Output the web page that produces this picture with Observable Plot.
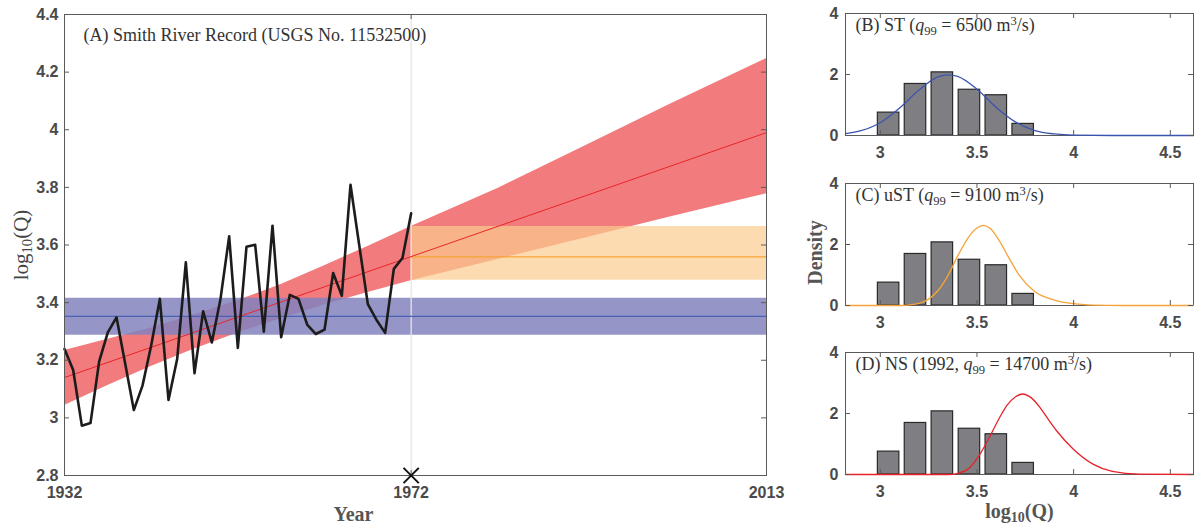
<!DOCTYPE html>
<html>
<head>
<meta charset="utf-8">
<script src="https://cdn.jsdelivr.net/npm/d3@7"></script>
<script src="https://cdn.jsdelivr.net/npm/@observablehq/plot@0.6"></script>
<style>
  body { margin: 0; background: #fff; }
  #fig { position: relative; width: 1194px; height: 527px; overflow: hidden; background: #fff; }
  #fig > svg { position: absolute; overflow: visible; }
</style>
</head>
<body>
<div id="fig"></div>
<script>
// ---- Smith River annual peaks, log10 of discharge (m³/s) ----
const years = [1932, 1933, 1934, 1935, 1936, 1937, 1938, 1939, 1940, 1941,
               1942, 1943, 1944, 1945, 1946, 1947, 1948, 1949, 1950, 1951,
               1952, 1953, 1954, 1955, 1956, 1957, 1958, 1959, 1960, 1961,
               1962, 1963, 1964, 1965, 1966, 1967, 1968, 1969, 1970, 1971, 1972];
const logQ = [3.239, 3.166, 2.973, 2.982, 3.196, 3.297, 3.349, 3.189, 3.027, 3.112,
              3.251, 3.413, 3.062, 3.204, 3.540, 3.155, 3.370, 3.262, 3.413, 3.630,
              3.243, 3.594, 3.601, 3.299, 3.667, 3.280, 3.427, 3.413, 3.324, 3.291,
              3.306, 3.503, 3.424, 3.809, 3.601, 3.395, 3.340, 3.295, 3.517, 3.555, 3.710];

// ---- Stationary (ST) level and its uncertainty band ----
const stSpan = [1932, 2013];
const stLevel = [3.287, 3.352, 3.415];   // lower, mean, upper

// ---- Updated stationary (uST) level from 1972 onward ----
const ustSpan = [1972, 2013];
const ustLevel = [3.478, 3.559, 3.664]; // lower, mean, upper

// ---- Nonstationary (NS) linear trend and its band ----
const nsTrendYears = [1932, 2013];
const nsTrend = [3.14, 3.99];
const nsBandYears = [1932, 1937, 1942, 1947, 1952, 1957, 1962, 1967, 1972, 1982, 1992, 2002, 2013];
const nsLower = [3.043, 3.112, 3.178, 3.239, 3.295, 3.344, 3.392, 3.435, 3.476, 3.550, 3.623, 3.698, 3.778];
const nsUpper = [3.234, 3.273, 3.312, 3.358, 3.407, 3.463, 3.528, 3.595, 3.664, 3.796, 3.943, 4.090, 4.247];

// ---- Axis ticks ----
const mainYTicks = [2.8, 3, 3.2, 3.4, 3.6, 3.8, 4, 4.2, 4.4];
const mainXTicks = [1932, 1972, 2013];
const histXTicks = [3, 3.5, 4, 4.5];
const histYTicks = [0, 2, 4];

// ---- Histogram of the record (density) ----
const binCenters = [3.043, 3.182, 3.321, 3.461, 3.600, 3.739];
const binDensity = [0.75, 1.69, 2.07, 1.50, 1.32, 0.38];

// ---- Fitted densities ----
const stCurveX = [2.82, 2.9, 3.0, 3.1, 3.2, 3.3, 3.35, 3.4, 3.5, 3.6, 3.7, 3.8, 3.9, 4.0, 4.2, 4.62];
const stCurveY = [0.06, 0.16, 0.42, 0.90, 1.49, 1.93, 1.99, 1.94, 1.52, 0.92, 0.44, 0.16, 0.05, 0.01, 0, 0];
const ustCurveX = [2.82, 3.10, 3.15, 3.20, 3.25, 3.30, 3.35, 3.40, 3.45, 3.50, 3.533, 3.57, 3.62, 3.66, 3.72, 3.80, 3.90, 4.00, 4.10, 4.25, 4.62];
const ustCurveY = [0, 0, 0.02, 0.07, 0.21, 0.50, 0.98, 1.62, 2.18, 2.54, 2.63, 2.52, 2.08, 1.62, 0.98, 0.45, 0.18, 0.06, 0.015, 0, 0];
const nsCurveX = [2.82, 3.35, 3.40, 3.45, 3.52, 3.571, 3.62, 3.657, 3.70, 3.735, 3.78, 3.829, 3.87, 3.915, 4.0, 4.10, 4.20, 4.34, 4.62];
const nsCurveY = [0, 0, 0.04, 0.16, 0.71, 1.30, 1.90, 2.28, 2.55, 2.64, 2.52, 2.17, 1.80, 1.41, 0.82, 0.34, 0.10, 0.01, 0];

// ---- Styling ----
const SERIF = "'Liberation Serif', 'DejaVu Serif', serif";
const SANS = "'Liberation Sans', Arial, sans-serif";
const AXIS = "#5a5a5a";
const TICKTXT = "#4a4a4a";

// Replace a plain text element by one with italics, subscripts and superscripts.
function setRich(svg, plain, parts) {
  svg.querySelectorAll("text").forEach(t => {
    if (t.textContent !== plain) return;
    while (t.firstChild) t.removeChild(t.firstChild);
    let shift = 0;
    for (const p of parts) {
      const ts = document.createElementNS("http://www.w3.org/2000/svg", "tspan");
      let target = 0;
      if (typeof p === "string") {
        ts.textContent = p;
      } else {
        ts.textContent = p.t;
        if (p.i) ts.setAttribute("font-style", "italic");
        if (p.sub) { ts.style.fontSize = "0.7em"; target = 4; }
        if (p.sup) { ts.style.fontSize = "0.7em"; target = -6; }
      }
      if (target !== shift) { ts.setAttribute("dy", target - shift); shift = target; }
      t.appendChild(ts);
    }
  });
}

const fig = document.getElementById("fig");

// ================= Panel A: record and model levels =================
const record = years.map((y, i) => ({year: y, q: logQ[i]}));
const stRows = stSpan.map(y => ({year: y, lo: stLevel[0], mid: stLevel[1], hi: stLevel[2]}));
const ustRows = ustSpan.map(y => ({year: y, lo: ustLevel[0], mid: ustLevel[1], hi: ustLevel[2]}));
const nsBand = nsBandYears.map((y, i) => ({year: y, lo: nsLower[i], hi: nsUpper[i]}));
const nsLine = nsTrendYears.map((y, i) => ({year: y, q: nsTrend[i]}));

const W = 790, H = 527, ML = 64, MR = 24, MT = 14, MB = 52;
const PW = W - ML - MR, PH = H - MT - MB;

const titleA = "(A) Smith River Record (USGS No. 11532500)";
const yLabA = "log10(Q)";

const tickText = {label: null, tickSize: 0, tickFormat: d => String(d),
  fontSize: 16, fontWeight: "bold", fontFamily: SANS, fill: TICKTXT};

const main = Plot.plot({
  width: W, height: H,
  marginLeft: ML, marginRight: MR, marginTop: MT, marginBottom: MB,
  x: {domain: [1932, 2013], axis: null},
  y: {domain: [2.8, 4.4], axis: null},
  style: {background: "transparent", overflow: "visible"},
  marks: [
    Plot.areaY(nsBand, {x: "year", y1: "lo", y2: "hi", fill: "#f27b7d"}),
    Plot.areaY(stRows, {x: "year", y1: "lo", y2: "hi", fill: "#8383be", fillOpacity: 0.85}),
    Plot.areaY(ustRows, {x: "year", y1: "lo", y2: "hi", fill: "#fccc8e", fillOpacity: 0.7}),
    Plot.ruleX([1972], {stroke: "#e6e6e6", strokeWidth: 1.3}),
    Plot.line(stRows, {x: "year", y: "mid", stroke: "#4a62b5", strokeWidth: 1.3}),
    Plot.line(ustRows, {x: "year", y: "mid", stroke: "#f6a334", strokeWidth: 1.3}),
    Plot.line(nsLine, {x: "year", y: "q", stroke: "#e8262a", strokeWidth: 1}),
    Plot.line(record, {x: "year", y: "q", stroke: "#1c1c1c", strokeWidth: 2.6}),
    Plot.frame({stroke: AXIS, strokeWidth: 1}),
    // inward ticks on all four sides
    Plot.tickY(mainYTicks, {y: d => d, stroke: AXIS, insetRight: PW - 5}),
    Plot.tickY(mainYTicks, {y: d => d, stroke: AXIS, insetLeft: PW - 5}),
    Plot.tickX(mainXTicks, {x: d => d, stroke: AXIS, insetTop: PH - 5}),
    Plot.tickX(mainXTicks, {x: d => d, stroke: AXIS, insetBottom: PH - 5}),
    Plot.axisY(mainYTicks, {anchor: "left", tickPadding: 6, ...tickText}),
    Plot.axisX(mainXTicks, {anchor: "bottom", tickPadding: 11, ...tickText}),
    Plot.dot([{year: 1972, q: 2.8}], {x: "year", y: "q", symbol: "times", r: 7, stroke: "#111", strokeWidth: 2}),
    Plot.text([titleA], {frameAnchor: "top-left", dx: 19, dy: 21, textAnchor: "start", lineAnchor: "middle",
      fontFamily: SERIF, fontSize: 18, fill: "#333"}),
    Plot.text([yLabA], {frameAnchor: "left", dx: -43, rotate: -90, textAnchor: "middle", lineAnchor: "middle",
      fontFamily: SERIF, fontSize: 21, fill: "#444"}),
    Plot.text(["Year"], {frameAnchor: "bottom", dx: -62, dy: 39, textAnchor: "middle", lineAnchor: "middle",
      fontFamily: SERIF, fontSize: 20, fontWeight: "bold", fill: "#555"})
  ]
});
main.style.left = "0px";
main.style.top = "0px";
fig.appendChild(main);
setRich(main, yLabA, ["log", {t: "10", sub: true}, "(Q)"]);

// ================= Panels B–D: histogram with fitted density =================
const bw = binCenters[1] - binCenters[0];
const bars = binCenters.map((c, i) => ({x1: c - 0.4 * bw, x2: c + 0.4 * bw, y: binDensity[i]}));

const HW = 394, HML = 45, HMR = 1, HMT = 13;
const HPW = HW - HML - HMR, HPH = 122;

function histPanel({top, extraBottom, plain, parts, cx, cy, color, xLabel, yLabel}) {
  const height = HMT + HPH + 35 + extraBottom;
  const curve = cx.map((x, i) => ({x, y: cy[i]}));
  const marks = [
    Plot.rectY(bars, {x1: "x1", x2: "x2", y: "y", fill: "#7f7f83", stroke: "#2a2a2a", strokeWidth: 1.2}),
    Plot.frame({stroke: AXIS, strokeWidth: 1}),
    Plot.line(curve, {x: "x", y: "y", stroke: color, strokeWidth: 1.3, curve: "monotone-x"}),
    Plot.tickY(histYTicks, {y: d => d, stroke: AXIS, insetRight: HPW - 5}),
    Plot.tickY(histYTicks, {y: d => d, stroke: AXIS, insetLeft: HPW - 5}),
    Plot.tickX(histXTicks, {x: d => d, stroke: AXIS, insetTop: HPH - 5}),
    Plot.tickX(histXTicks, {x: d => d, stroke: AXIS, insetBottom: HPH - 5}),
    Plot.axisY(histYTicks, {anchor: "left", tickPadding: 7, ...tickText}),
    Plot.axisX(histXTicks, {anchor: "bottom", tickPadding: 11, ...tickText}),
    Plot.text([plain], {frameAnchor: "top-left", dx: 10, dy: 12, textAnchor: "start", lineAnchor: "middle",
      fontFamily: SERIF, fontSize: 18, fill: "#333"})
  ];
  if (xLabel) marks.push(Plot.text([xLabel], {frameAnchor: "bottom", dy: 37, textAnchor: "middle", lineAnchor: "middle",
      fontFamily: SERIF, fontSize: 20, fontWeight: "bold", fill: "#555"}));
  if (yLabel) marks.push(Plot.text([yLabel], {frameAnchor: "left", dx: -30, dy: 8, rotate: -90, textAnchor: "middle",
      lineAnchor: "middle", fontFamily: SERIF, fontSize: 20, fontWeight: "bold", fill: "#555"}));
  const p = Plot.plot({
    width: HW, height,
    marginLeft: HML, marginRight: HMR, marginTop: HMT, marginBottom: height - HMT - HPH,
    x: {domain: [2.82, 4.62], axis: null},
    y: {domain: [0, 4], axis: null},
    style: {background: "transparent", overflow: "visible"},
    marks
  });
  p.style.left = "800px";
  p.style.top = top + "px";
  fig.appendChild(p);
  setRich(p, plain, parts);
  if (xLabel) setRich(p, xLabel, ["log", {t: "10", sub: true}, "(Q)"]);
  return p;
}

histPanel({top: 0, extraBottom: 0, plain: "(B) ST (q99 = 6500 m3/s)",
  parts: ["(B) ST (", {t: "q", i: true}, {t: "99", sub: true}, " = 6500 m", {t: "3", sup: true}, "/s)"],
  cx: stCurveX, cy: stCurveY, color: "#3a55b0"});
histPanel({top: 170, extraBottom: 0, plain: "(C) uST (q99 = 9100 m3/s)",
  parts: ["(C) uST (", {t: "q", i: true}, {t: "99", sub: true}, " = 9100 m", {t: "3", sup: true}, "/s)"],
  cx: ustCurveX, cy: ustCurveY, color: "#f5a33a", yLabel: "Density"});
histPanel({top: 339, extraBottom: 18, plain: "(D) NS (1992, q99 = 14700 m3/s)",
  parts: ["(D) NS (1992, ", {t: "q", i: true}, {t: "99", sub: true}, " = 14700 m", {t: "3", sup: true}, "/s)"],
  cx: nsCurveX, cy: nsCurveY, color: "#e8222a", xLabel: "log10(Q)"});
</script>
</body>
</html>
